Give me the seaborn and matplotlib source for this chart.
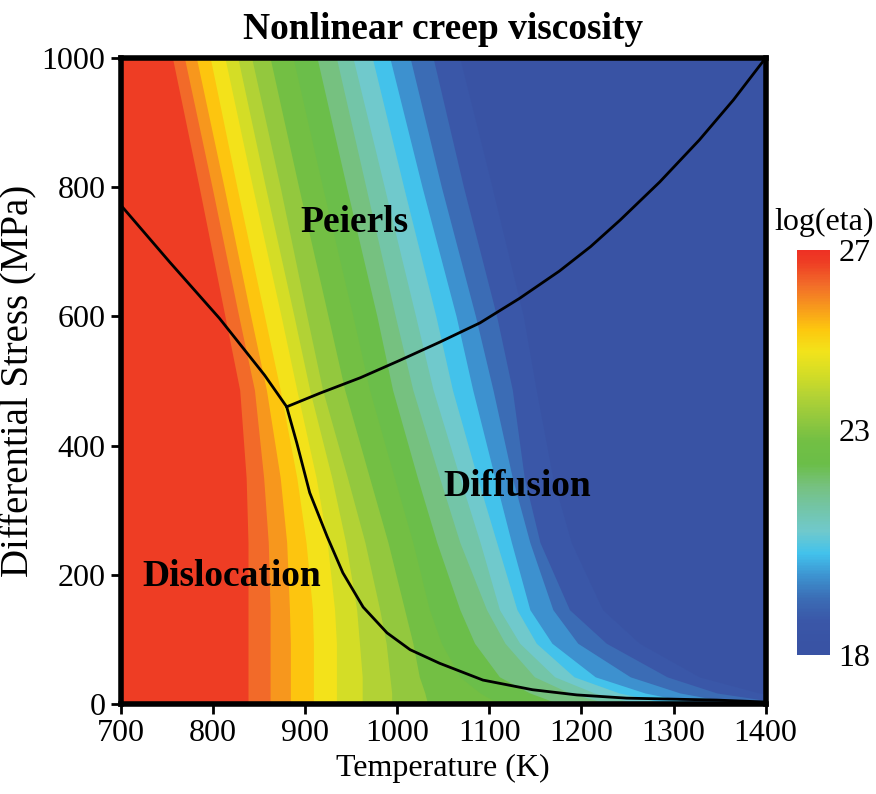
import numpy as np
import matplotlib
matplotlib.use("Agg")
import matplotlib.pyplot as plt
import seaborn as sns
import pandas as pd
from matplotlib.colors import LinearSegmentedColormap, Normalize
from matplotlib.cm import ScalarMappable

# ---------------- data ----------------
T_MIN, T_MAX = 700, 1400
S_MIN, S_MAX = 0, 1000
STRESS_ROWS = [0, 17, 42, 94, 146, 250, 350, 486, 600, 800, 1000]

# temperature (K) of each log(eta) contour level at the stress rows above
LEVELS = [26.5, 26.0, 25.5, 25.0, 24.5, 24.0, 23.5, 23.0, 22.5,
          22.0, 21.5, 21.0, 20.5, 20.0, 19.5, 19.0, 18.5]
C265 = [838, 838, 838, 838, 838, 838, 836, 829, 813, 785, 756]
C260 = [862, 862, 862, 862, 862, 860, 855, 845, 828, 799, 769]
C255 = [884, 884, 884, 884, 883, 880, 873, 858, 841, 812, 782]
C250 = [909, 909, 909, 909, 908, 901, 891, 873, 856, 826, 797]
C245 = [934, 934, 934, 934, 932, 924, 912, 891, 874, 843, 813]
C240 = [962, 962, 962, 959, 956, 944, 929, 905, 888, 857, 827]
C235 = [994, 994, 992, 988, 981, 965, 946, 919, 902, 873, 842]
C230 = [1033, 1030, 1024, 1017, 1008, 990, 970, 943, 925, 893, 862]
C225 = [1111, 1090, 1068, 1048, 1035, 1017, 997, 970, 952, 919, 887]
C220 = [1176, 1144, 1111, 1084, 1068, 1043, 1022, 995, 978, 945, 913]
C215 = [1231, 1187, 1149, 1117, 1097, 1068, 1046, 1017, 998, 966, 934]
C210 = [1263, 1214, 1171, 1133, 1111, 1090, 1068, 1039, 1020, 986, 952]
C205 = [1296, 1241, 1192, 1151, 1130, 1108, 1087, 1060, 1042, 1007, 973]
C200 = [1328, 1269, 1215, 1168, 1144, 1124, 1106, 1082, 1064, 1027, 992]
C195 = [1372, 1307, 1253, 1196, 1169, 1144, 1125, 1104, 1085, 1048, 1014]
C190 = [1426, 1347, 1293, 1227, 1187, 1155, 1138, 1125, 1108, 1072, 1039]
C185 = [1491, 1393, 1328, 1263, 1223, 1189, 1169, 1151, 1137, 1103, 1068]
CONTOURS = [C265, C260, C255, C250, C245, C240, C235, C230, C225,
            C220, C215, C210, C205, C200, C195, C190, C185]

# mechanism boundaries
DISL_PEIERLS_T = [700, 753, 807, 856, 880]
DISL_PEIERLS_S = [772, 684, 597, 509, 460]
PEIERLS_DIFF_T = [880, 916, 960, 1003, 1046, 1090, 1133, 1176, 1210, 1242, 1285, 1328, 1365, 1400]
PEIERLS_DIFF_S = [460, 481, 505, 532, 560, 590, 628, 670, 708, 749, 808, 873, 935, 1000]
DISL_DIFF_T = [880, 891, 905, 924, 941, 963, 989, 1014, 1046, 1093, 1147, 1195, 1249, 1347, 1400]
DISL_DIFF_S = [460, 404, 327, 259, 203, 150, 110, 84, 63, 37, 22, 14, 9, 6, 3]

# colour scale
CBAR_MIN, CBAR_MAX = 18, 27
CBAR_TICKS = [18, 23, 27]
BAND_MIDS = [18.0, 18.25, 18.75, 19.25, 19.75, 20.25, 20.75, 21.25, 21.75, 22.25,
             22.75, 23.25, 23.75, 24.25, 24.75, 25.25, 25.75, 26.25, 26.75, 27.0]
BAND_COLORS = ["#3953A4", "#3953A4", "#3A57A8", "#3B6DB5", "#3D93D0", "#42C2EC",
               "#70C9CC", "#73C5A8", "#76C17F", "#6BBE48", "#72BF44", "#92C83E",
               "#B2D235", "#D4DD26", "#F2E31B", "#FDC70E", "#F7981D", "#F26B29",
               "#EE3D24", "#EE3124"]

LABELS = ["Peierls", "Diffusion", "Dislocation"]
LABEL_T = [954, 1130, 820]
LABEL_S = [746, 337, 198]

# ---------------- drawing ----------------
sns.set_theme(style="white")
plt.rcParams["font.family"] = ["Liberation Serif", "DejaVu Serif"]

pos = [(m - CBAR_MIN) / (CBAR_MAX - CBAR_MIN) for m in BAND_MIDS]
cmap = LinearSegmentedColormap.from_list("creep", list(zip(pos, BAND_COLORS)))
norm = Normalize(CBAR_MIN, CBAR_MAX)

fig = plt.figure(figsize=(8.76, 7.94), dpi=100)
ax = fig.add_axes([0.138, 0.1134, 0.736, 0.8136])

stress = np.array(STRESS_ROWS, dtype=float)
edges = [np.full(len(stress), T_MIN, dtype=float)] + [np.array(c, dtype=float) for c in CONTOURS]
band_vals = [LEVELS[0] + 0.25] + [lv - 0.25 for lv in LEVELS]
for left, val in zip(edges, band_vals):
    ax.fill_betweenx(stress, left, np.full(len(stress), T_MAX, dtype=float),
                     color=cmap(norm(val)), linewidth=0)

line_df = pd.concat([
    pd.DataFrame({"T": DISL_PEIERLS_T, "S": DISL_PEIERLS_S, "b": "dp"}),
    pd.DataFrame({"T": PEIERLS_DIFF_T, "S": PEIERLS_DIFF_S, "b": "pd"}),
    pd.DataFrame({"T": DISL_DIFF_T, "S": DISL_DIFF_S, "b": "dd"}),
])
for name, grp in line_df.groupby("b"):
    sns.lineplot(data=grp, x="T", y="S", ax=ax, color="black", linewidth=2,
                 sort=False, estimator=None, legend=False)

for txt, tx, sy in zip(LABELS, LABEL_T, LABEL_S):
    ax.text(tx, sy, txt, fontsize=27, fontweight="bold", ha="center", va="center",
            color="black")

ax.set_xlim(T_MIN, T_MAX)
ax.set_ylim(S_MIN, S_MAX)
ax.set_xticks(range(700, 1401, 100))
ax.set_yticks(range(0, 1001, 200))
ax.tick_params(axis="both", direction="out", length=7, width=2, labelsize=23,
               colors="black", bottom=True, left=True, pad=4)
for sp in ax.spines.values():
    sp.set_linewidth(4)
    sp.set_color("black")
    sp.set_zorder(5)

ax.set_xlabel("Temperature (K)", fontsize=23, labelpad=4, color="black")
ax.set_ylabel("Differential Stress (MPa)", fontsize=28, labelpad=3, color="black")
ax.set_title("Nonlinear creep viscosity", fontsize=27, fontweight="bold", pad=14,
             color="black")

cax = fig.add_axes([0.910, 0.175, 0.0377, 0.510])
sm = ScalarMappable(norm=norm, cmap=cmap)
cb = fig.colorbar(sm, cax=cax, ticks=CBAR_TICKS)
cb.outline.set_visible(False)
cb.ax.tick_params(length=0, labelsize=23, pad=6, colors="black")
fig.text(0.998, 1 - 222 / 794, "log(eta)", fontsize=23, ha="right", va="center",
         color="black")

fig.savefig("out.png", dpi=100)
